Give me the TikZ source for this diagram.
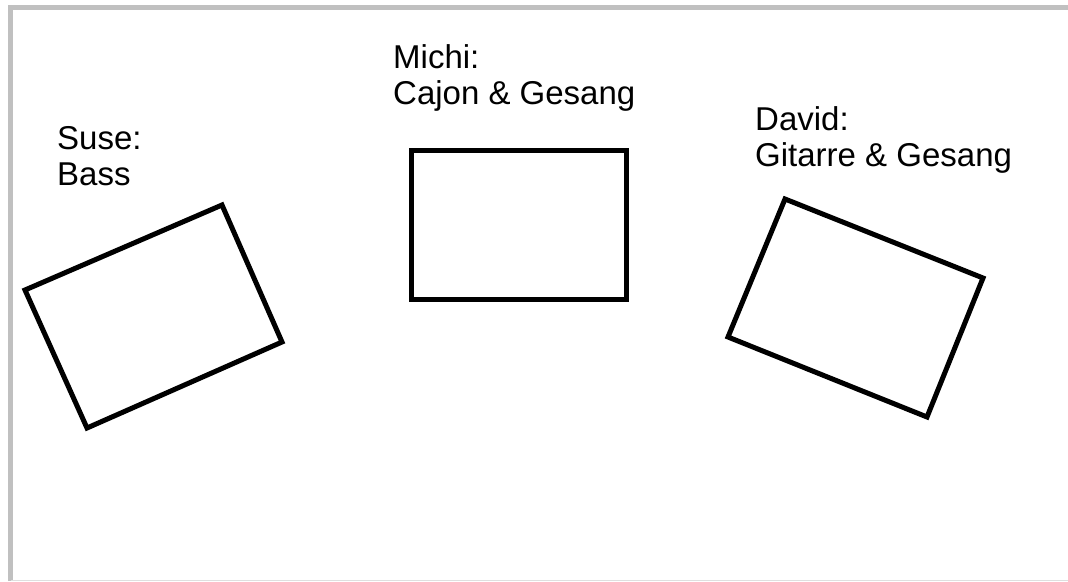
\documentclass[tikz,border=0pt]{standalone}
\usepackage{fontspec}
\setmainfont{Liberation Sans}
\definecolor{framegray}{RGB}{192,192,192}
\begin{document}
\begin{tikzpicture}[x=1pt,y=-1pt,
  stand/.style={draw, line width=5pt, line join=miter},
  who/.style={anchor=base west, align=left, inner sep=0pt, font=\fontsize{33}{36}\selectfont}]
\useasboundingbox (0,0) rectangle (1068,581);
% frame
\draw[framegray, line width=5pt] (10.5,581) -- (10.5,7.5) -- (1068,7.5);
\draw[framegray!50, line width=1pt] (10.5,580.5) -- (1068,580.5);

% positions on stage
\draw[stand] (25,290) -- (222,205) -- (282,342) -- (87,428) -- cycle;
\draw[stand] (411,150) rectangle (626,299);
\draw[stand] (785,199) -- (983,278) -- (927,417) -- (728,337) -- cycle;

\node[who] (suse) at (57,185) {Suse:\\Bass};
\node[who] (michi) at (393,104) {Michi:\\Cajon \& Gesang};
\node[who] (david) at (755,166) {David:\\Gitarre \& Gesang};
\end{tikzpicture}
\end{document}
